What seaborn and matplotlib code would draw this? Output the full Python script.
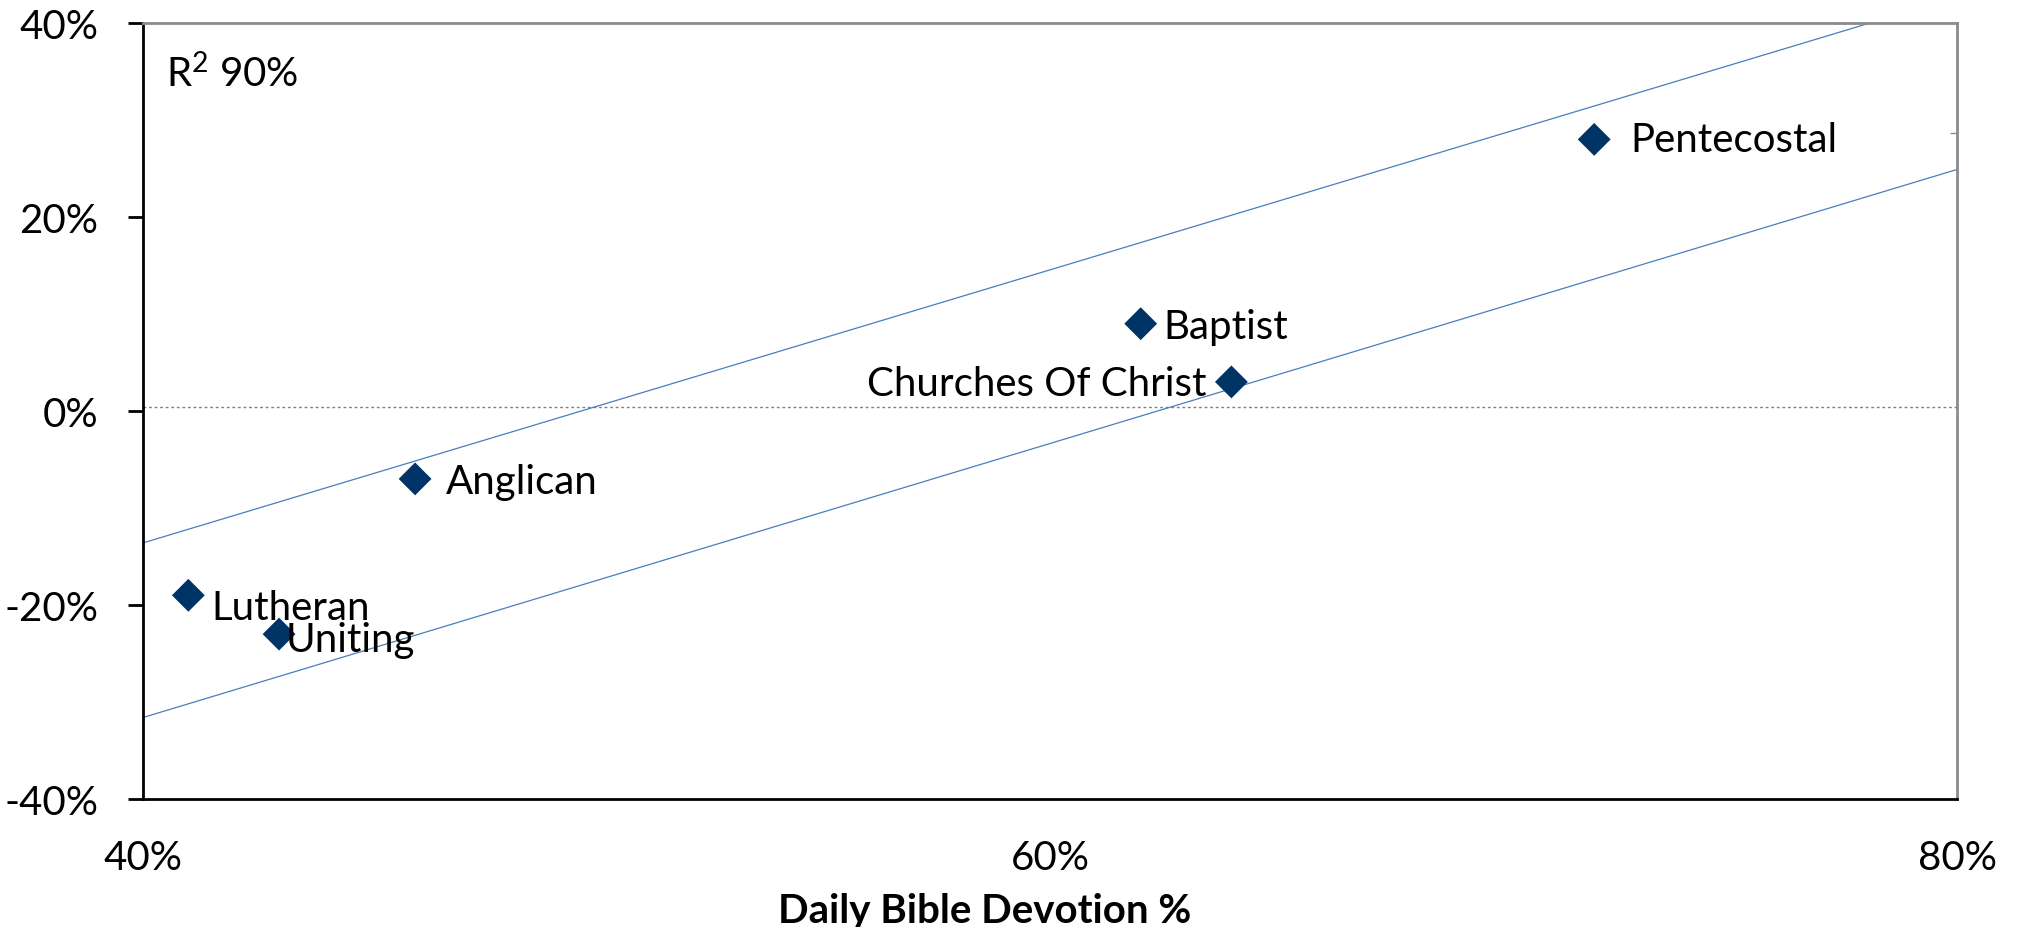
import matplotlib
matplotlib.use("Agg")
import matplotlib.pyplot as plt
import seaborn as sns
import pandas as pd

# ---- data ----
denominations = ["Pentecostal", "Baptist", "Churches Of Christ", "Anglican", "Lutheran", "Uniting"]
daily_devotion = [0.72, 0.62, 0.64, 0.46, 0.41, 0.43]
growth = [0.28, 0.09, 0.03, -0.07, -0.19, -0.23]

band_x = [0.40, 0.80]
band_upper = [-0.136, 0.427]
band_lower = [-0.316, 0.249]
reference_level = 0.0045

x_ticks = [0.4, 0.6, 0.8]
x_tick_labels = ["40%", "60%", "80%"]
y_ticks = [-0.4, -0.2, 0.0, 0.2, 0.4]
y_tick_labels = ["-40%", "-20%", "0%", "20%", "40%"]
r2_text = r"R$^{2}$ 90%"
x_title = "Daily Bible Devotion %"

# label offsets (pixels) and alignment
label_offsets = [(36, 0), (23, -3), (-25, -2), (31, -3), (23, -12), (7, -5)]
label_ha = ["left", "left", "right", "left", "left", "left"]

sns.set_theme(style="white")
plt.rcParams["font.family"] = ["Lato", "DejaVu Sans"]
plt.rcParams["mathtext.fontset"] = "custom"
plt.rcParams["mathtext.rm"] = "Lato"
plt.rcParams["mathtext.it"] = "Lato"
plt.rcParams["mathtext.default"] = "regular"

FS = 29
fig = plt.figure(figsize=(20.22, 9.28), dpi=100)
ax = fig.add_axes([143 / 2022, 1 - 800 / 928, (1957 - 143) / 2022, (800 - 24) / 928])

df = pd.DataFrame({"name": denominations, "x": daily_devotion, "y": growth})

# band lines
ax.plot(band_x, band_upper, color="#4a7ebb", lw=0.9, zorder=2)
ax.plot(band_x, band_lower, color="#4a7ebb", lw=0.9, zorder=2)
ax.axhline(reference_level, color="#808080", lw=1.0, ls=(0, (2, 2)), zorder=1)

sns.scatterplot(data=df, x="x", y="y", marker="D", color="#003366", s=280,
                edgecolor="none", ax=ax, zorder=3, legend=False)

for name, xv, yv, off, ha in zip(denominations, daily_devotion, growth, label_offsets, label_ha):
    ax.annotate(name, (xv, yv), xytext=off, textcoords="offset pixels",
                ha=ha, va="center", fontsize=FS, color="black", zorder=4)

ax.text(0.0127, 0.962, r2_text, transform=ax.transAxes,
        ha="left", va="top", fontsize=FS, color="black")

ax.set_xlim(0.4, 0.8)
ax.set_ylim(-0.4, 0.4)
ax.set_xticks(x_ticks)
ax.set_xticklabels(x_tick_labels)
ax.set_yticks(y_ticks)
ax.set_yticklabels(y_tick_labels)
ax.tick_params(axis="both", labelsize=FS, colors="black", direction="out",
               width=2, length=11)
ax.tick_params(axis="y", pad=21)
ax.tick_params(axis="x", pad=18)
ax.set_xlabel(x_title, fontsize=FS, fontweight="bold", color="black")
ax.set_ylabel("")
ax.xaxis.set_label_coords(0.464, -0.12)
ax.xaxis.label.set_va("top")

for side in ["left", "bottom"]:
    ax.spines[side].set_color("black")
    ax.spines[side].set_linewidth(2)
for side in ["top", "right"]:
    ax.spines[side].set_color("#8c8c8c")
    ax.spines[side].set_linewidth(2)
    ax.spines[side].set_visible(True)

# secondary right tick
ax2 = ax.twinx()
ax2.set_ylim(-0.4, 0.4)
ax2.set_yticks([0.287])
ax2.set_yticklabels([""])
ax2.tick_params(axis="y", direction="in", length=5, width=1, colors="#8c8c8c")
for s in ax2.spines.values():
    s.set_visible(False)

fig.savefig("out.png", dpi=100, facecolor="white")
